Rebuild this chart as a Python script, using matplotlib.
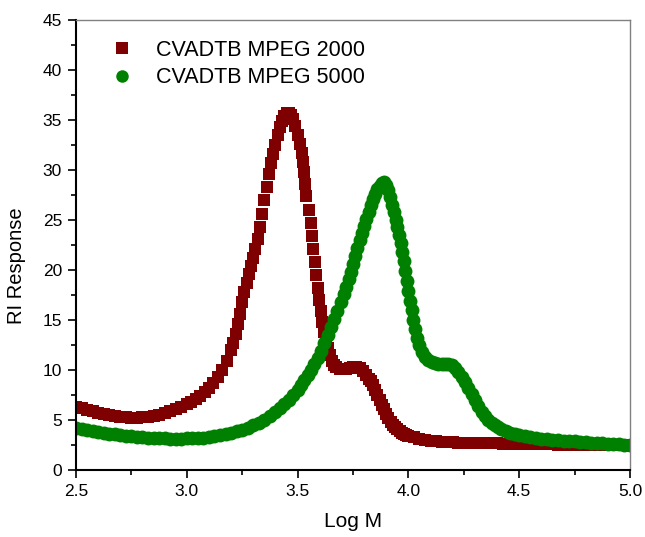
import matplotlib
matplotlib.use("Agg")
import matplotlib.pyplot as plt
from matplotlib.ticker import MultipleLocator, FormatStrFormatter

plt.rcParams['font.family'] = ['Liberation Sans', 'DejaVu Sans']

# ---- data ----
label_2000 = "CVADTB MPEG 2000"
label_5000 = "CVADTB MPEG 5000"

logm_2000 = [
    2.500, 2.525, 2.550, 2.575, 2.600, 2.625, 2.650, 2.675, 2.700, 2.725,
    2.750, 2.775, 2.800, 2.825, 2.850, 2.875, 2.900, 2.925, 2.950, 2.975,
    3.000, 3.020, 3.040, 3.060, 3.080, 3.100, 3.120, 3.140, 3.160, 3.180,
    3.200, 3.210, 3.220, 3.230, 3.240, 3.250, 3.260, 3.270, 3.280, 3.290,
    3.300, 3.310, 3.320, 3.330, 3.340, 3.350, 3.360, 3.370, 3.380, 3.390,
    3.400, 3.410, 3.420, 3.430, 3.440, 3.450, 3.460, 3.470, 3.480, 3.490,
    3.500, 3.510, 3.520, 3.525, 3.530, 3.535, 3.540, 3.550, 3.560, 3.565,
    3.570, 3.578, 3.585, 3.590, 3.598, 3.605, 3.612, 3.620, 3.628, 3.636,
    3.645, 3.655, 3.665, 3.675, 3.690, 3.705, 3.720, 3.735, 3.750, 3.765,
    3.780, 3.795, 3.810, 3.820, 3.830, 3.840, 3.850, 3.860, 3.870, 3.880,
    3.890, 3.900, 3.910, 3.920, 3.930, 3.940, 3.950, 3.960, 3.970, 3.980,
    3.990, 4.000, 4.025, 4.050, 4.075, 4.100, 4.125, 4.150, 4.175, 4.200,
    4.225, 4.250, 4.275, 4.300, 4.325, 4.350, 4.375, 4.400, 4.425, 4.450,
    4.475, 4.500, 4.525, 4.550, 4.575, 4.600, 4.625, 4.650, 4.675, 4.700,
    4.725, 4.750, 4.775, 4.800, 4.825, 4.850, 4.875, 4.900, 4.925, 4.950,
    4.975, 5.000,
]
ri_2000 = [
    6.30, 6.15, 6.00, 5.85, 5.70, 5.58, 5.47, 5.38, 5.30, 5.25,
    5.22, 5.22, 5.25, 5.30, 5.40, 5.52, 5.67, 5.85, 6.05, 6.30,
    6.55, 6.80, 7.10, 7.40, 7.80, 8.20, 8.70, 9.30, 10.0, 10.9,
    12.0, 12.7, 13.6, 14.6, 15.6, 16.8, 17.8, 18.7, 19.6, 20.4,
    21.2, 22.1, 23.1, 24.3, 25.6, 27.0, 28.3, 29.6, 30.7, 31.6,
    32.5, 33.5, 34.3, 34.9, 35.4, 35.7, 35.7, 35.5, 35.1, 34.4,
    33.5, 32.6, 31.7, 30.8, 29.8, 28.6, 27.4, 26.0, 24.7, 23.4,
    22.1, 20.8, 19.5, 18.2, 17.0, 15.9, 14.8, 13.8, 12.9, 12.2,
    11.5, 10.9, 10.5, 10.25, 10.1, 10.05, 10.1, 10.2, 10.3, 10.3,
    10.2, 9.9, 9.5, 9.1, 8.9, 8.5, 8.0, 7.5, 7.0, 6.5,
    6.1, 5.6, 5.15, 4.8, 4.5, 4.25, 4.05, 3.88, 3.74, 3.62,
    3.52, 3.44, 3.26, 3.10, 3.00, 2.92, 2.86, 2.82, 2.78, 2.75,
    2.73, 2.71, 2.70, 2.69, 2.68, 2.67, 2.66, 2.65, 2.64, 2.63,
    2.62, 2.61, 2.60, 2.59, 2.58, 2.57, 2.56, 2.55, 2.54, 2.53,
    2.52, 2.52, 2.51, 2.50, 2.49, 2.48, 2.47, 2.47, 2.46, 2.45,
    2.45, 2.44,
]

logm_5000 = [
    2.500, 2.525, 2.550, 2.575, 2.600, 2.625, 2.650, 2.675, 2.700, 2.725,
    2.750, 2.775, 2.800, 2.825, 2.850, 2.875, 2.900, 2.925, 2.950, 2.975,
    3.000, 3.025, 3.050, 3.075, 3.100, 3.125, 3.150, 3.175, 3.200, 3.225,
    3.250, 3.275, 3.300, 3.325, 3.350, 3.375, 3.400, 3.420, 3.440, 3.460,
    3.480, 3.500, 3.515, 3.530, 3.545, 3.560, 3.575, 3.590, 3.605, 3.620,
    3.635, 3.650, 3.665, 3.680, 3.695, 3.710, 3.720, 3.730, 3.740, 3.750,
    3.760, 3.770, 3.780, 3.790, 3.800, 3.810, 3.820, 3.830, 3.840, 3.850,
    3.860, 3.870, 3.880, 3.890, 3.900, 3.910, 3.918, 3.926, 3.934, 3.942,
    3.950, 3.958, 3.965, 3.972, 3.979, 3.986, 3.993, 4.000, 4.007, 4.014,
    4.022, 4.030, 4.040, 4.050, 4.062, 4.075, 4.090, 4.105, 4.120, 4.135,
    4.150, 4.165, 4.180, 4.195, 4.210, 4.225, 4.240, 4.255, 4.270, 4.285,
    4.300, 4.315, 4.330, 4.345, 4.360, 4.375, 4.390, 4.405, 4.420, 4.440,
    4.460, 4.480, 4.500, 4.525, 4.550, 4.575, 4.600, 4.625, 4.650, 4.675,
    4.700, 4.725, 4.750, 4.775, 4.800, 4.825, 4.850, 4.875, 4.900, 4.925,
    4.950, 4.975, 5.000,
]
ri_5000 = [
    4.20, 4.10, 4.00, 3.90, 3.80, 3.72, 3.64, 3.56, 3.48, 3.41,
    3.35, 3.29, 3.25, 3.21, 3.18, 3.16, 3.15, 3.14, 3.14, 3.14,
    3.15, 3.17, 3.20, 3.24, 3.30, 3.37, 3.46, 3.57, 3.70, 3.85,
    4.02, 4.22, 4.45, 4.72, 5.02, 5.37, 5.77, 6.15, 6.55, 7.00,
    7.50, 8.00, 8.50, 9.00, 9.50, 10.0, 10.6, 11.2, 11.9, 12.7,
    13.5, 14.3, 15.1, 15.9, 16.8, 17.6, 18.3, 19.1, 19.8, 20.6,
    21.4, 22.2, 23.0, 23.7, 24.4, 25.1, 25.8, 26.5, 27.1, 27.6,
    28.1, 28.4, 28.7, 28.75, 28.5, 28.0, 27.3, 26.5, 25.8, 25.0,
    24.3, 23.5, 22.7, 21.8, 20.9, 19.9, 18.9, 17.9, 16.9, 16.0,
    15.0, 14.1, 13.2, 12.5, 11.8, 11.3, 11.0, 10.8, 10.65, 10.6,
    10.6, 10.6, 10.6, 10.5, 10.2, 9.8, 9.3, 8.8, 8.2, 7.6,
    7.0, 6.4, 5.8, 5.35, 5.0, 4.7, 4.45, 4.25, 4.05, 3.85,
    3.70, 3.57, 3.47, 3.37, 3.28, 3.20, 3.13, 3.07, 3.02, 2.97,
    2.93, 2.89, 2.85, 2.81, 2.77, 2.73, 2.69, 2.65, 2.61, 2.58,
    2.55, 2.52, 2.49,
]

red = "#7f0000"
green = "#008000"

fig = plt.figure(figsize=(6.45, 5.37), dpi=100)
ax = fig.add_axes([0.1178, 0.1248, 0.859, 0.838])

ax.plot(logm_2000, ri_2000, linestyle="none", marker="s", markersize=9.0,
        color=red, markeredgewidth=0, label=label_2000)
ax.plot(logm_5000, ri_5000, linestyle="none", marker="o", markersize=10.0,
        color=green, markeredgewidth=0, label=label_5000)

ax.set_xlim(2.5, 5.0)
ax.set_ylim(0, 45)
ax.xaxis.set_major_locator(MultipleLocator(0.5))
ax.xaxis.set_minor_locator(MultipleLocator(0.25))
ax.yaxis.set_major_locator(MultipleLocator(5))
ax.yaxis.set_minor_locator(MultipleLocator(2.5))
ax.xaxis.set_major_formatter(FormatStrFormatter('%.1f'))

ax.tick_params(which="both", direction="out", top=False, right=False,
               width=1.2, labelsize=12.5, colors="black")
ax.tick_params(which="major", length=6, pad=4)
ax.tick_params(which="minor", length=3.5)

for side in ("left", "bottom"):
    ax.spines[side].set_linewidth(1.5)
    ax.spines[side].set_color("black")
for side in ("top", "right"):
    ax.spines[side].set_linewidth(1.0)
    ax.spines[side].set_color("#808080")

ax.set_xlabel("Log M", fontsize=15)
ax.set_ylabel("RI Response", fontsize=14.5)
ax.xaxis.set_label_coords(0.5, -0.094)
ax.yaxis.set_label_coords(-0.09, 0.453)

leg = ax.legend(loc="upper left", bbox_to_anchor=(0.052, 0.975), frameon=False,
                fontsize=15.5, handlelength=0.8, handletextpad=1.2,
                labelspacing=0.3, markerscale=0.9, borderaxespad=0)

fig.savefig("out.png", dpi=100)
